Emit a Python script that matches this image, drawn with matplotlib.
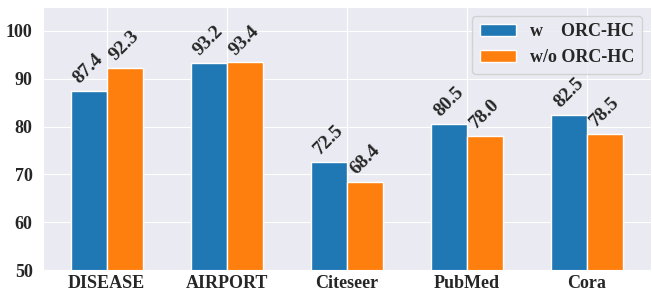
import numpy as np
import matplotlib
matplotlib.use("Agg")
import matplotlib.pyplot as plt
import seaborn as sns

datasets = ["DISEASE", "AIRPORT", "Citeseer", "PubMed", "Cora"]
with_orc = [87.4, 93.2, 72.5, 80.5, 82.5]
without_orc = [92.3, 93.4, 68.4, 78.0, 78.5]

sns.set_style("darkgrid")
plt.rcParams['font.family'] = ['Liberation Serif', 'DejaVu Serif']
plt.rcParams['font.weight'] = 'bold'

fig, ax = plt.subplots(figsize=(6.52, 2.92), dpi=100)
fig.subplots_adjust(left=0.066, right=0.998, top=0.976, bottom=0.075)

x = np.arange(len(datasets))
w = 0.3
b1 = ax.bar(x - w/2, with_orc, w, color="#1f77b4", edgecolor="white", label="w    ORC-HC")
b2 = ax.bar(x + w/2, without_orc, w, color="#ff7f0e", edgecolor="white", label="w/o ORC-HC")

for bars in (b1, b2):
    for r in bars:
        h = r.get_height()
        ax.annotate(f"{h:.1f}", (r.get_x() + r.get_width()/2, h), xytext=(0, 3),
                    textcoords="offset points", ha="center", va="bottom",
                    rotation=45, fontsize=14, fontweight="bold", color="#262626")

ax.set_ylim(50, 105)
ax.set_yticks([50, 60, 70, 80, 90, 100])
ax.set_xticks(x)
ax.set_xticklabels(datasets)
ax.tick_params(axis="both", labelsize=13)
ax.tick_params(axis="x", pad=0)
ax.tick_params(axis="y", pad=4)
for lbl in ax.get_xticklabels() + ax.get_yticklabels():
    lbl.set_fontweight("bold")

ax.legend(loc="upper right", prop={"size": 13, "weight": "bold"})

fig.savefig("out.png", dpi=100)
